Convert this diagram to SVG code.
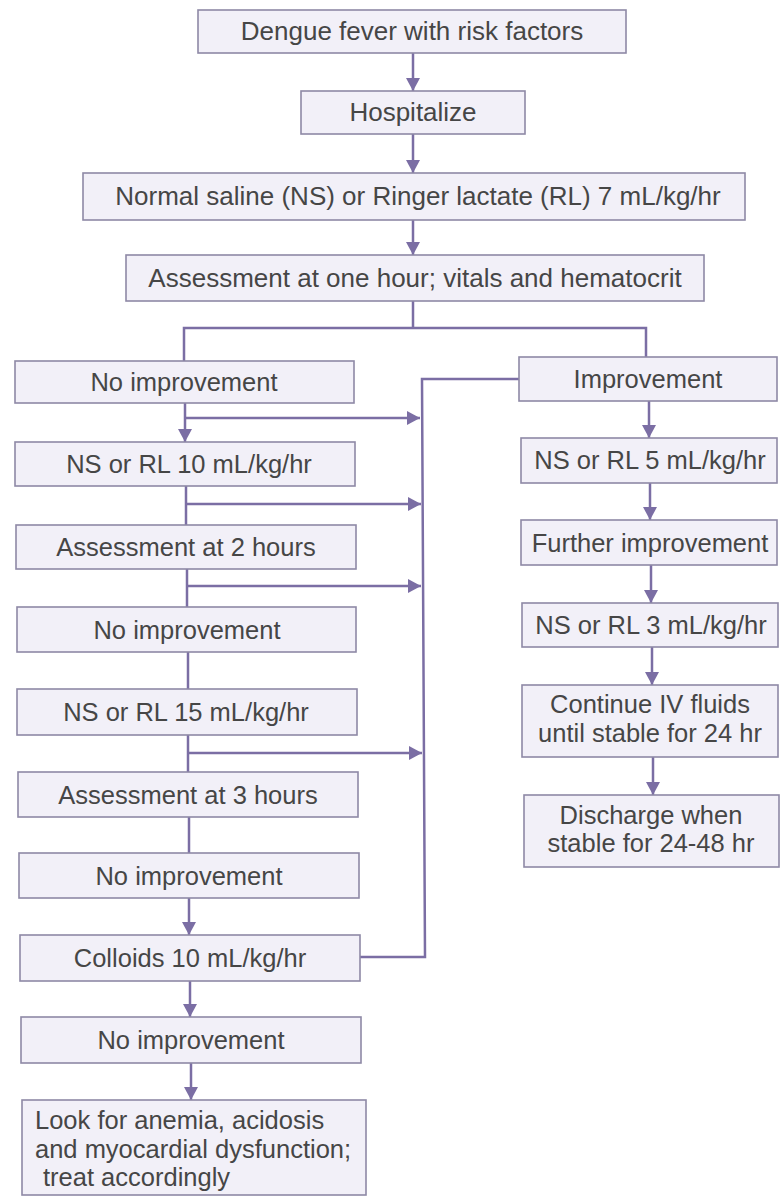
<svg xmlns="http://www.w3.org/2000/svg" width="782" height="1199" viewBox="0 0 782 1199">
  <style>
    .box { fill: #f2f0f8; stroke: #8e89a6; stroke-width: 1.6; }
    .t { font-family: "Liberation Sans", Arial, sans-serif; font-size: 25.5px; fill: #464646; text-anchor: middle; }
    .tt { font-size: 26px; }
    .tl { text-anchor: start; }
    .ln { fill: none; stroke: #7b6ea4; stroke-width: 2.5; }
  </style>
  <defs>
    <marker id="ah" markerUnits="userSpaceOnUse" markerWidth="14" markerHeight="14" refX="13" refY="7" orient="auto">
      <path d="M0,0 L13,7 L0,14 Z" fill="#7b6ea4"/>
    </marker>
  </defs>
  <rect width="782" height="1199" fill="#ffffff"/>

  <g id="connectors">
    <line class="ln" x1="413" y1="53" x2="413" y2="91" marker-end="url(#ah)"/>
    <line class="ln" x1="413" y1="134" x2="413" y2="173" marker-end="url(#ah)"/>
    <line class="ln" x1="413" y1="220" x2="413" y2="255" marker-end="url(#ah)"/>
    <line class="ln" x1="413" y1="301" x2="413" y2="328"/>
    <polyline class="ln" points="184,361 184,328 646,328 646,357"/>
    <line class="ln" x1="185" y1="403" x2="185" y2="442" marker-end="url(#ah)"/>
    <line class="ln" x1="185" y1="418" x2="420" y2="418" marker-end="url(#ah)"/>
    <line class="ln" x1="186" y1="486" x2="186" y2="525"/>
    <line class="ln" x1="186" y1="504" x2="421" y2="504" marker-end="url(#ah)"/>
    <line class="ln" x1="187" y1="569" x2="187" y2="607"/>
    <line class="ln" x1="187" y1="586" x2="421" y2="586" marker-end="url(#ah)"/>
    <line class="ln" x1="188" y1="652" x2="188" y2="689"/>
    <line class="ln" x1="188" y1="735" x2="188" y2="772"/>
    <line class="ln" x1="188" y1="753" x2="422" y2="753" marker-end="url(#ah)"/>
    <line class="ln" x1="189" y1="817" x2="189" y2="853"/>
    <line class="ln" x1="189" y1="898" x2="189" y2="935" marker-end="url(#ah)"/>
    <line class="ln" x1="190" y1="981" x2="190" y2="1017" marker-end="url(#ah)"/>
    <line class="ln" x1="191" y1="1063" x2="191" y2="1100" marker-end="url(#ah)"/>
    <polyline class="ln" points="360,957 425,957 422,379 519,379"/>
    <line class="ln" x1="649" y1="401" x2="649" y2="438" marker-end="url(#ah)"/>
    <line class="ln" x1="650" y1="483" x2="650" y2="520" marker-end="url(#ah)"/>
    <line class="ln" x1="651" y1="565" x2="651" y2="603" marker-end="url(#ah)"/>
    <line class="ln" x1="652" y1="647" x2="652" y2="685" marker-end="url(#ah)"/>
    <line class="ln" x1="653" y1="757" x2="653" y2="795" marker-end="url(#ah)"/>
  </g>

  <g id="n-dengue"><rect class="box" x="198" y="10" width="428" height="43"/><text class="t tt" x="412" y="40">Dengue fever with risk factors</text></g>
  <g id="n-hosp"><rect class="box" x="301" y="91" width="224" height="43"/><text class="t tt" x="413" y="121">Hospitalize</text></g>
  <g id="n-ns7"><rect class="box" x="83" y="173" width="662" height="47"/><text class="t tt" x="418" y="205">Normal saline (NS) or Ringer lactate (RL) 7 mL/kg/hr</text></g>
  <g id="n-assess1"><rect class="box" x="126" y="255" width="578" height="46"/><text class="t tt" x="415" y="287">Assessment at one hour; vitals and hematocrit</text></g>

  <g id="n-noimp1"><rect class="box" x="15" y="361" width="339" height="42"/><text class="t" x="184" y="391">No improvement</text></g>
  <g id="n-ns10"><rect class="box" x="15" y="442" width="340" height="44"/><text class="t" x="189" y="473">NS or RL 10 mL/kg/hr</text></g>
  <g id="n-assess2"><rect class="box" x="16" y="525" width="340" height="44"/><text class="t" x="186" y="556">Assessment at 2 hours</text></g>
  <g id="n-noimp2"><rect class="box" x="17" y="607" width="339" height="45"/><text class="t" x="187" y="639">No improvement</text></g>
  <g id="n-ns15"><rect class="box" x="17" y="689" width="340" height="46"/><text class="t" x="186" y="721">NS or RL 15 mL/kg/hr</text></g>
  <g id="n-assess3"><rect class="box" x="18" y="772" width="340" height="45"/><text class="t" x="188" y="804">Assessment at 3 hours</text></g>
  <g id="n-noimp3"><rect class="box" x="19" y="853" width="340" height="45"/><text class="t" x="189" y="885">No improvement</text></g>
  <g id="n-colloids"><rect class="box" x="20" y="935" width="340" height="46"/><text class="t" x="190" y="967">Colloids 10 mL/kg/hr</text></g>
  <g id="n-noimp4"><rect class="box" x="21" y="1017" width="340" height="46"/><text class="t" x="191" y="1049">No improvement</text></g>
  <g id="n-look"><rect class="box" x="22" y="1100" width="344" height="95"/>
    <text class="t tl" x="35" y="1129">Look for anemia, acidosis</text>
    <text class="t tl" x="35" y="1158">and myocardial dysfunction;</text>
    <text class="t tl" x="43" y="1186">treat accordingly</text>
  </g>

  <g id="n-imp"><rect class="box" x="519" y="357" width="258" height="44"/><text class="t" x="648" y="388">Improvement</text></g>
  <g id="n-ns5"><rect class="box" x="521" y="438" width="256" height="45"/><text class="t" x="650" y="469">NS or RL 5 mL/kg/hr</text></g>
  <g id="n-further"><rect class="box" x="521" y="520" width="256" height="45"/><text class="t" x="650" y="552">Further improvement</text></g>
  <g id="n-ns3"><rect class="box" x="522" y="603" width="256" height="44"/><text class="t" x="651" y="634">NS or RL 3 mL/kg/hr</text></g>
  <g id="n-continue"><rect class="box" x="522" y="685" width="256" height="72"/>
    <text class="t" x="650" y="713">Continue IV fluids</text>
    <text class="t" x="650" y="742">until stable for 24 hr</text>
  </g>
  <g id="n-discharge"><rect class="box" x="524" y="795" width="255" height="72"/>
    <text class="t" x="651" y="824">Discharge when</text>
    <text class="t" x="651" y="852">stable for 24-48 hr</text>
  </g>
</svg>
